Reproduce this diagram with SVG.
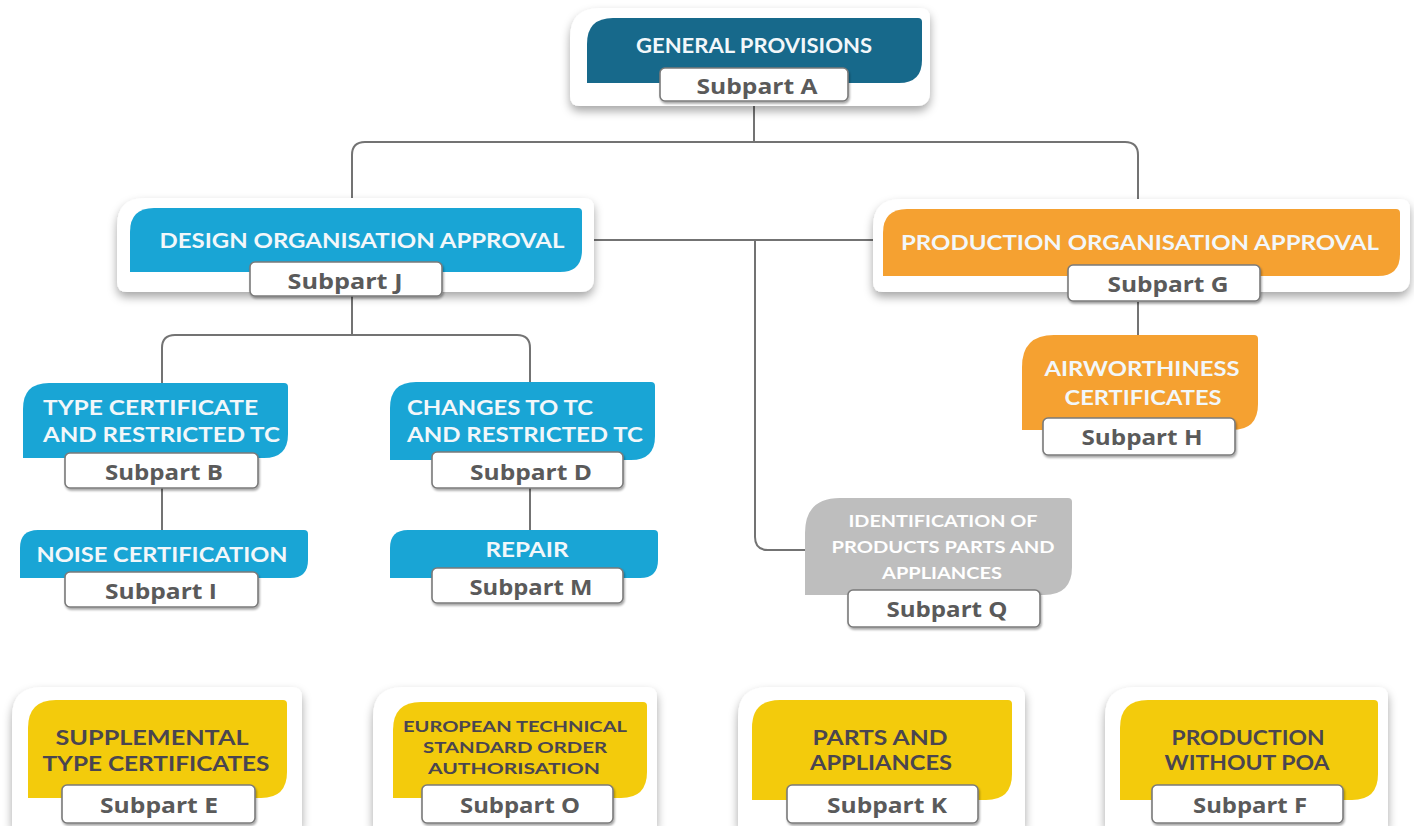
<svg xmlns="http://www.w3.org/2000/svg" width="1414" height="826" viewBox="0 0 1414 826">
  <defs>
    <filter id="cardShadow" x="-10%" y="-20%" width="120%" height="150%">
      <feDropShadow dx="0" dy="5" stdDeviation="5" flood-color="#000" flood-opacity="0.35"/>
    </filter>
    <filter id="tagShadow" x="-10%" y="-20%" width="120%" height="160%">
      <feDropShadow dx="1" dy="2" stdDeviation="1.2" flood-color="#000" flood-opacity="0.35"/>
    </filter>
  </defs>
  <style>
    .card { fill: #ffffff; filter: url(#cardShadow); }
    .teal { fill: #17698b; }
    .blue { fill: #19a5d5; }
    .orange { fill: #f5a131; }
    .yellow { fill: #f3cb0c; }
    .grey { fill: #bebebe; }
    .tag { fill: #ffffff; stroke: #7a7a7a; stroke-width: 1.6; filter: url(#tagShadow); }
    .title { font-family: "Lato", "Liberation Sans", sans-serif; font-weight: 700; text-anchor: middle; }
    .light { fill: #f2f7fa; font-size: 21px; }
    .dark { fill: #4a4550; font-size: 20px; }
    .small { font-size: 17px; }
    .tiny { font-size: 16px; }
    .sub { font-family: "Open Sans", "Liberation Sans", sans-serif; font-weight: 700; font-size: 21px; fill: #5a5a5a; text-anchor: middle; }
    .link { fill: none; stroke: #737373; stroke-width: 2; }
  </style>

  <!-- connectors -->
  <g id="connectors">
    <path class="link" d="M754,101 V142"/>
    <path class="link" d="M352,208 V155 Q352,142 365,142 H1125 Q1138,142 1138,155 V209"/>
    <path class="link" d="M594,240 H873"/>
    <path class="link" d="M755,240 V537 Q755,550 768,550 H805"/>
    <path class="link" d="M352,296 V335"/>
    <path class="link" d="M162,383 V348 Q162,335 175,335 H517 Q530,335 530,348 V382"/>
    <path class="link" d="M162,488 V530"/>
    <path class="link" d="M530,488 V530"/>
    <path class="link" d="M1138,302 V335"/>
  </g>

  <!-- Subpart A -->
  <g id="node-a">
    <path class="card" d="M570,38 Q570,8 600,8 H920 Q930,8 930,18 V92 Q930,106 916,106 H580 Q570,106 570,96 Z"/>
    <path class="teal" d="M587,44 Q587,18 613,18 H918 Q922,18 922,22 V60 Q922,83 899,83 H587 Z"/>
    <text class="title light" x="754" y="53" textLength="236" lengthAdjust="spacingAndGlyphs">GENERAL PROVISIONS</text>
    <rect class="tag" x="660" y="68" width="188" height="33" rx="5"/>
    <text class="sub" x="757" y="94" textLength="121" lengthAdjust="spacingAndGlyphs">Subpart A</text>
  </g>

  <!-- Subpart J -->
  <g id="node-j">
    <path class="card" d="M117,226 Q117,198 145,198 H584 Q594,198 594,208 V278 Q594,292 580,292 H127 Q117,292 117,282 Z"/>
    <path class="blue" d="M130,232 Q130,208 154,208 H578 Q582,208 582,212 V250 Q582,272 560,272 H130 Z"/>
    <text class="title light" x="362" y="248" textLength="405" lengthAdjust="spacingAndGlyphs">DESIGN ORGANISATION APPROVAL</text>
    <rect class="tag" x="250" y="262" width="192" height="34" rx="5"/>
    <text class="sub" x="345" y="289" textLength="115" lengthAdjust="spacingAndGlyphs">Subpart J</text>
  </g>

  <!-- Subpart G -->
  <g id="node-g">
    <path class="card" d="M873,227 Q873,199 901,199 H1400 Q1410,199 1410,209 V278 Q1410,292 1396,292 H883 Q873,292 873,282 Z"/>
    <path class="orange" d="M883,233 Q883,209 907,209 H1396 Q1400,209 1400,213 V254 Q1400,276 1378,276 H883 Z"/>
    <text class="title light" x="1140" y="250" textLength="478" lengthAdjust="spacingAndGlyphs">PRODUCTION ORGANISATION APPROVAL</text>
    <rect class="tag" x="1068" y="265" width="192" height="36" rx="5"/>
    <text class="sub" x="1168" y="292" textLength="121" lengthAdjust="spacingAndGlyphs">Subpart G</text>
  </g>

  <!-- Subpart B -->
  <g id="node-b">
    <path class="blue" d="M23,409 Q23,383 49,383 H284 Q288,383 288,387 V434 Q288,458 264,458 H23 Z"/>
    <text class="title light" x="43" y="415" style="text-anchor:start" textLength="215" lengthAdjust="spacingAndGlyphs">TYPE CERTIFICATE</text>
    <text class="title light" x="43" y="442" style="text-anchor:start" textLength="237" lengthAdjust="spacingAndGlyphs">AND RESTRICTED TC</text>
    <rect class="tag" x="65" y="453" width="193" height="35" rx="5"/>
    <text class="sub" x="164" y="480" textLength="118" lengthAdjust="spacingAndGlyphs">Subpart B</text>
  </g>

  <!-- Subpart D -->
  <g id="node-d">
    <path class="blue" d="M390,408 Q390,382 416,382 H651 Q655,382 655,386 V436 Q655,460 631,460 H390 Z"/>
    <text class="title light" x="407" y="415" style="text-anchor:start" textLength="186" lengthAdjust="spacingAndGlyphs">CHANGES TO TC</text>
    <text class="title light" x="407" y="442" style="text-anchor:start" textLength="236" lengthAdjust="spacingAndGlyphs">AND RESTRICTED TC</text>
    <rect class="tag" x="432" y="452" width="191" height="36" rx="5"/>
    <text class="sub" x="531" y="480" textLength="122" lengthAdjust="spacingAndGlyphs">Subpart D</text>
  </g>

  <!-- Subpart I -->
  <g id="node-i">
    <path class="blue" d="M20,548 Q20,530 38,530 H304 Q308,530 308,534 V560 Q308,578 290,578 H20 Z"/>
    <text class="title light" x="162" y="562" textLength="251" lengthAdjust="spacingAndGlyphs">NOISE CERTIFICATION</text>
    <rect class="tag" x="65" y="572" width="193" height="35" rx="5"/>
    <text class="sub" x="161" y="599" textLength="112" lengthAdjust="spacingAndGlyphs">Subpart I</text>
  </g>

  <!-- Subpart M -->
  <g id="node-m">
    <path class="blue" d="M390,548 Q390,530 408,530 H654 Q658,530 658,534 V560 Q658,578 640,578 H390 Z"/>
    <text class="title light" x="527" y="557" textLength="83" lengthAdjust="spacingAndGlyphs">REPAIR</text>
    <rect class="tag" x="432" y="568" width="191" height="35" rx="5"/>
    <text class="sub" x="531" y="595" textLength="123" lengthAdjust="spacingAndGlyphs">Subpart M</text>
  </g>

  <!-- Subpart Q -->
  <g id="node-q">
    <path class="grey" d="M805,533 Q805,498 840,498 H1068 Q1072,498 1072,502 V567 Q1072,595 1044,595 H805 Z"/>
    <text class="title small" fill="#ffffff" x="943" y="527" textLength="189" lengthAdjust="spacingAndGlyphs">IDENTIFICATION OF</text>
    <text class="title small" fill="#ffffff" x="943" y="553" textLength="223" lengthAdjust="spacingAndGlyphs">PRODUCTS PARTS AND</text>
    <text class="title small" fill="#ffffff" x="942" y="579" textLength="120" lengthAdjust="spacingAndGlyphs">APPLIANCES</text>
    <rect class="tag" x="848" y="590" width="192" height="37" rx="5"/>
    <text class="sub" x="947" y="617" textLength="121" lengthAdjust="spacingAndGlyphs">Subpart Q</text>
  </g>

  <!-- Subpart H -->
  <g id="node-h">
    <path class="orange" d="M1022,367 Q1022,335 1054,335 H1254 Q1258,335 1258,339 V404 Q1258,430 1232,430 H1022 Z"/>
    <text class="title light" x="1142" y="376" textLength="195" lengthAdjust="spacingAndGlyphs">AIRWORTHINESS</text>
    <text class="title light" x="1143" y="405" textLength="157" lengthAdjust="spacingAndGlyphs">CERTIFICATES</text>
    <rect class="tag" x="1043" y="418" width="192" height="37" rx="5"/>
    <text class="sub" x="1142" y="445" textLength="121" lengthAdjust="spacingAndGlyphs">Subpart H</text>
  </g>

  <!-- Subpart E -->
  <g id="node-e">
    <path class="card" d="M12,717 Q12,687 42,687 H292 Q302,687 302,697 V826 H12 Z"/>
    <path class="yellow" d="M28,728 Q28,700 56,700 H283 Q287,700 287,704 V772 Q287,798 261,798 H28 Z"/>
    <text class="title dark" x="152" y="745" textLength="193" lengthAdjust="spacingAndGlyphs">SUPPLEMENTAL</text>
    <text class="title dark" x="156" y="771" textLength="227" lengthAdjust="spacingAndGlyphs">TYPE CERTIFICATES</text>
    <rect class="tag" x="62" y="785" width="193" height="38" rx="5"/>
    <text class="sub" x="159" y="813" textLength="118" lengthAdjust="spacingAndGlyphs">Subpart E</text>
  </g>

  <!-- Subpart O -->
  <g id="node-o">
    <path class="card" d="M373,717 Q373,687 403,687 H647 Q657,687 657,697 V826 H373 Z"/>
    <path class="yellow" d="M393,730 Q393,702 421,702 H643 Q647,702 647,706 V772 Q647,798 621,798 H393 Z"/>
    <text class="title dark tiny" x="515" y="732" textLength="224" lengthAdjust="spacingAndGlyphs">EUROPEAN TECHNICAL</text>
    <text class="title dark tiny" x="515" y="753" textLength="184" lengthAdjust="spacingAndGlyphs">STANDARD ORDER</text>
    <text class="title dark tiny" x="514" y="774" textLength="172" lengthAdjust="spacingAndGlyphs">AUTHORISATION</text>
    <rect class="tag" x="422" y="785" width="191" height="38" rx="5"/>
    <text class="sub" x="520" y="813" textLength="120" lengthAdjust="spacingAndGlyphs">Subpart O</text>
  </g>

  <!-- Subpart K -->
  <g id="node-k">
    <path class="card" d="M738,717 Q738,687 768,687 H1015 Q1025,687 1025,697 V826 H738 Z"/>
    <path class="yellow" d="M752,728 Q752,700 780,700 H1008 Q1012,700 1012,704 V774 Q1012,800 986,800 H752 Z"/>
    <text class="title dark" x="880" y="745" textLength="135" lengthAdjust="spacingAndGlyphs">PARTS AND</text>
    <text class="title dark" x="881" y="770" textLength="142" lengthAdjust="spacingAndGlyphs">APPLIANCES</text>
    <rect class="tag" x="787" y="785" width="191" height="38" rx="5"/>
    <text class="sub" x="887" y="813" textLength="120" lengthAdjust="spacingAndGlyphs">Subpart K</text>
  </g>

  <!-- Subpart F -->
  <g id="node-f">
    <path class="card" d="M1105,717 Q1105,687 1135,687 H1378 Q1388,687 1388,697 V826 H1105 Z"/>
    <path class="yellow" d="M1120,728 Q1120,700 1148,700 H1374 Q1378,700 1378,704 V774 Q1378,800 1352,800 H1120 Z"/>
    <text class="title dark" x="1248" y="745" textLength="153" lengthAdjust="spacingAndGlyphs">PRODUCTION</text>
    <text class="title dark" x="1247" y="770" textLength="165" lengthAdjust="spacingAndGlyphs">WITHOUT POA</text>
    <rect class="tag" x="1152" y="785" width="191" height="38" rx="5"/>
    <text class="sub" x="1250" y="813" textLength="114" lengthAdjust="spacingAndGlyphs">Subpart F</text>
  </g>
</svg>
